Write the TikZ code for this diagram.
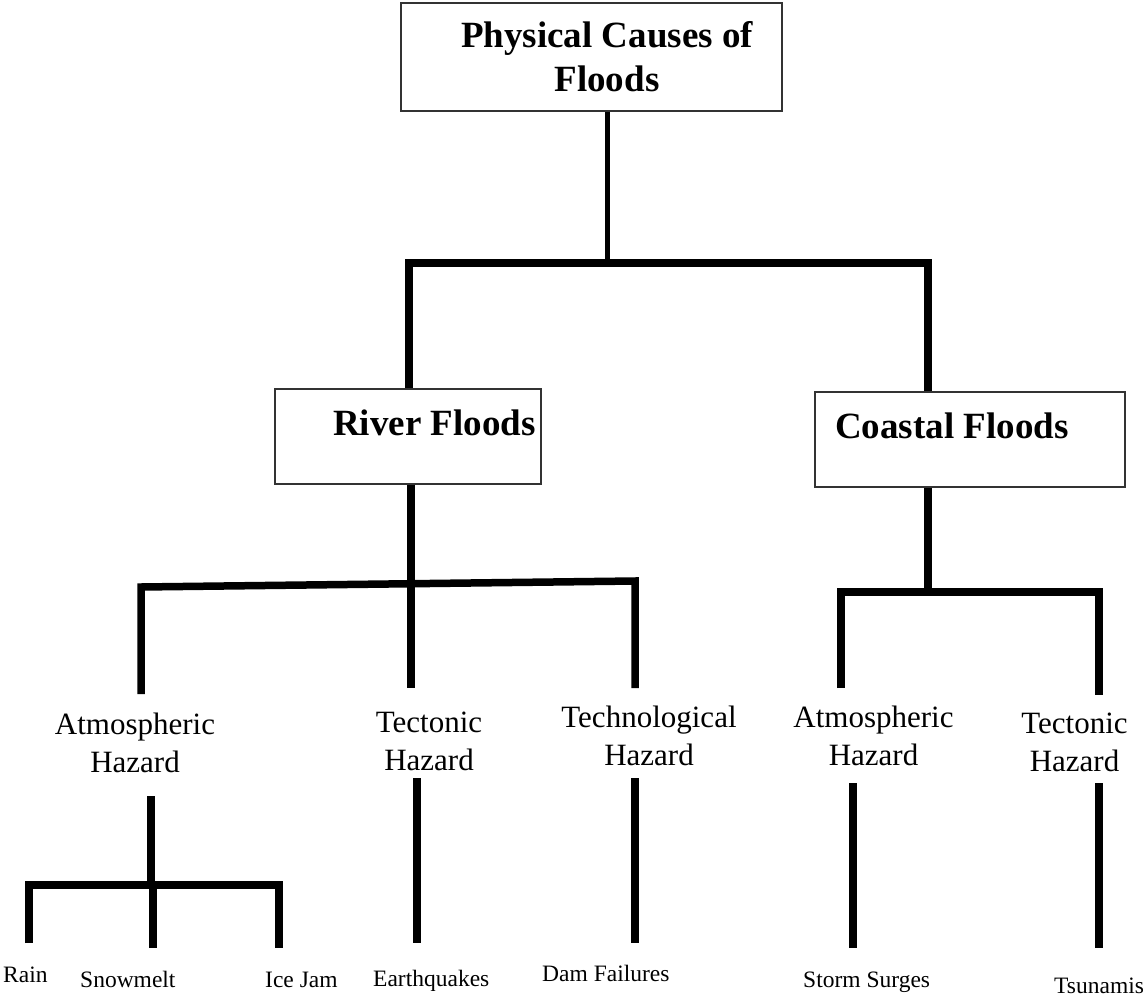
\documentclass[tikz,border=0pt]{standalone}
\usepackage{fontspec}
\setmainfont{Liberation Serif}
\begin{document}
\begin{tikzpicture}[x=1pt,y=-1pt,
  frame/.style={draw=black!80,line width=1.2pt,inner sep=0pt},
  heading/.style={font=\fontsize{37}{44}\selectfont\bfseries,align=center,inner sep=0pt},
  hazard/.style={font=\fontsize{31}{38}\selectfont,align=center,inner sep=0pt},
  leaf/.style={font=\fontsize{23.5}{28}\selectfont,inner sep=0pt,anchor=base west},
  link/.style={line width=7.5pt,line join=miter},
  thinlink/.style={line width=5pt}]
\useasboundingbox (0,0) rectangle (1144,999);

% boxes
\node[frame,minimum width=381pt,minimum height=108pt] (top) at (591.5,57) {};
\node[frame,minimum width=266pt,minimum height=95pt] (river) at (408,436.5) {};
\node[frame,minimum width=310pt,minimum height=95pt] (coastal) at (970,439.5) {};

% box titles
\node[heading] (toptext) at (607,57) {Physical Causes of\\Floods};
\node[heading,anchor=base west] (rivertext) at (333,435) {River Floods};
\node[heading,anchor=base west] (coasttext) at (835,438) {Coastal Floods};

% hazard labels
\node[hazard] (ratm) at (135,742.5) {Atmospheric\\Hazard};
\node[hazard] (rtec) at (429,741.5) {Tectonic\\Hazard};
\node[hazard] (rtech) at (649,735.5) {Technological\\Hazard};
\node[hazard] (catm) at (873.5,735.5) {Atmospheric\\Hazard};
\node[hazard] (ctec) at (1074.5,742) {Tectonic\\Hazard};

% leaf labels
\node[leaf] (rain) at (3,982) {Rain};
\node[leaf] (snow) at (80,987) {Snowmelt};
\node[leaf] (ice) at (265,987) {Ice Jam};
\node[leaf] (quake) at (373,986) {Earthquakes};
\node[leaf] (dam) at (542,981) {Dam Failures};
\node[leaf] (storm) at (803,987) {Storm Surges};
\node[leaf] (tsu) at (1054,993) {Tsunamis};

% junction points
\coordinate (hub) at (607,263);
\coordinate (hubL) at (409,263);
\coordinate (hubR) at (928,263);
\coordinate (rdrop) at (411,688);
\coordinate (rbL) at (141,587);
\coordinate (rbLend) at (141,694);
\coordinate (rbR) at (635,581);
\coordinate (rbRend) at (635,688);
\coordinate (chub) at (928,592);
\coordinate (cbL) at (841,592);
\coordinate (cbLend) at (841,688);
\coordinate (cbR) at (1099,592);
\coordinate (cbRend) at (1099,695);
\coordinate (atop) at (151,796);
\coordinate (ahub) at (151,885);
\coordinate (abL) at (29,885);
\coordinate (abR) at (279,885);
\coordinate (rainend) at (29,943);
\coordinate (snowtop) at (153,889);
\coordinate (snowend) at (153,948);
\coordinate (iceend) at (279,948);
\coordinate (tectop) at (417,778);
\coordinate (tecend) at (417,943);
\coordinate (techtop) at (635,778);
\coordinate (techend) at (635,943);
\coordinate (catmtop) at (853,783);
\coordinate (catmend) at (853,948);
\coordinate (ctectop) at (1099,783);
\coordinate (ctecend) at (1099,948);

% top level
\draw[thinlink] (top.south -| hub) -- (hub);
\draw[link] (river.north -| hubL) -- (hubL) -- (hubR) -- (coastal.north -| hubR);

% river branch
\draw[link] (river.south -| rdrop) -- (rdrop);
\draw[link] (rbLend) -- (rbL) -- (rbR) -- (rbRend);

% coastal branch
\draw[link] (coastal.south -| chub) -- (chub);
\draw[link] (cbLend) -- (cbL) -- (cbR) -- (cbRend);

% atmospheric sub-branch
\draw[link] (atop) -- (ahub);
\draw[link] (rainend) -- (abL) -- (abR) -- (iceend);
\draw[link] (snowtop) -- (snowend);

% single drops
\draw[link] (tectop) -- (tecend);
\draw[link] (techtop) -- (techend);
\draw[link] (catmtop) -- (catmend);
\draw[link] (ctectop) -- (ctecend);
\end{tikzpicture}
\end{document}
